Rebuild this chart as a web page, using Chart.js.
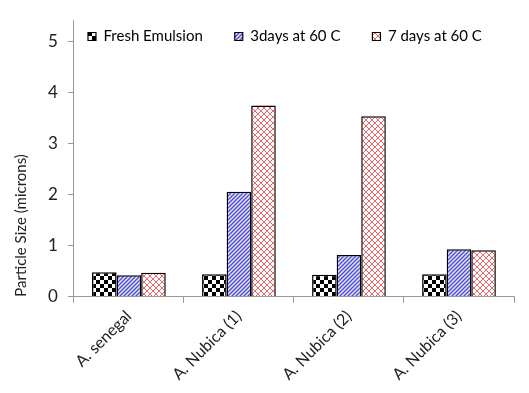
<!DOCTYPE html>
<html>
<head>
<meta charset="utf-8">
<script src="https://cdn.jsdelivr.net/npm/chart.js@4/dist/chart.umd.min.js"></script>
<style>
  html, body { margin: 0; padding: 0; background: #fff; }
  #wrap { width: 529px; height: 393px; position: relative; }
</style>
</head>
<body>
<div id="wrap"><canvas id="chart"></canvas></div>
<script>
// Data
const categories = ['A. senegal', 'A. Nubica (1)', 'A. Nubica (2)', 'A. Nubica (3)'];
const seriesNames = ['Fresh Emulsion', '3days at 60 C', '7 days at 60 C'];
const freshValues = [0.48, 0.44, 0.43, 0.44];
const threeDayValues = [0.42, 2.06, 0.82, 0.93];
const sevenDayValues = [0.47, 3.75, 3.54, 0.91];
const yTicks = [0, 1, 2, 3, 4, 5];

// Fill patterns like the Excel ones
function makePattern(size, draw) {
  const c = document.createElement('canvas');
  c.width = size;
  c.height = size;
  const ctx = c.getContext('2d');
  draw(ctx, size);
  return ctx.createPattern(c, 'repeat');
}

const checkerPattern = makePattern(8, (ctx, s) => {
  ctx.fillStyle = '#fff';
  ctx.fillRect(0, 0, s, s);
  ctx.fillStyle = '#000';
  ctx.fillRect(0, 0, 4, 4);
  ctx.fillRect(4, 4, 4, 4);
});

const stripePattern = makePattern(4, (ctx, s) => {
  ctx.fillStyle = '#e4e4fa';
  ctx.fillRect(0, 0, s, s);
  ctx.strokeStyle = '#4b4bd6';
  ctx.lineWidth = 1.3;
  ctx.beginPath();
  ctx.moveTo(-1, s + 1); ctx.lineTo(s + 1, -1);
  ctx.moveTo(-1, 1); ctx.lineTo(1, -1);
  ctx.moveTo(s - 1, s + 1); ctx.lineTo(s + 1, s - 1);
  ctx.stroke();
});

const crossPattern = makePattern(6, (ctx, s) => {
  ctx.fillStyle = '#fff';
  ctx.fillRect(0, 0, s, s);
  ctx.strokeStyle = '#ee6a6a';
  ctx.lineWidth = 1;
  ctx.beginPath();
  ctx.moveTo(0, 0); ctx.lineTo(s, s);
  ctx.moveTo(0, s); ctx.lineTo(s, 0);
  ctx.stroke();
});

const fontFamily = 'Lato, "Open Sans", sans-serif';

// Legend sits inside the plot area: it takes no layout space,
// then gets its real height back so it is not clipped away
const legendInside = {
  id: 'legendInside',
  beforeInit(chart) {
    const legend = chart.legend;
    if (!legend) return;
    const fit = legend.fit.bind(legend);
    legend.fit = function () {
      fit();
      this._fullHeight = this.height;
      this.height = 0;
    };
  },
  afterLayout(chart) {
    const legend = chart.legend;
    if (!legend || !legend._fullHeight) return;
    legend.top = -3;
    legend.height = legend._fullHeight;
    legend.bottom = legend.top + legend._fullHeight;
    legend.left = chart.chartArea.left - 18;
    legend.right = chart.chartArea.right;
    legend.width = legend.right - legend.left;
  }
};

new Chart(document.getElementById('chart').getContext('2d'), {
  type: 'bar',
  data: {
    labels: categories,
    datasets: [
      { label: seriesNames[0], data: freshValues, backgroundColor: checkerPattern },
      { label: seriesNames[1], data: threeDayValues, backgroundColor: stripePattern },
      { label: seriesNames[2], data: sevenDayValues, backgroundColor: crossPattern }
    ]
  },
  plugins: [legendInside],
  options: {
    responsive: true,
    maintainAspectRatio: false,
    animation: false,
    layout: { padding: { top: 12, right: 15, left: 8, bottom: 5 } },
    datasets: {
      bar: {
        borderColor: '#000',
        borderWidth: 1.5,
        categoryPercentage: 0.67,
        barPercentage: 1.0
      }
    },
    plugins: {
      legend: {
        display: true,
        position: 'top',
        align: 'center',
        labels: {
          color: '#222',
          boxWidth: 8,
          boxHeight: 8,
          padding: 32,
          font: { family: fontFamily, size: 15 },
          generateLabels: chart => chart.data.datasets.map((ds, i) => ({
            text: ds.label,
            fillStyle: ds.backgroundColor,
            strokeStyle: '#000',
            lineWidth: 1.2,
            datasetIndex: i,
            hidden: false
          }))
        }
      },
      tooltip: { enabled: false }
    },
    scales: {
      x: {
        border: { color: '#999', width: 1 },
        grid: { display: true, drawOnChartArea: false, tickLength: 6, color: '#999' },
        ticks: {
          color: '#222',
          maxRotation: 45,
          minRotation: 45,
          padding: 4,
          font: { family: fontFamily, size: 16 }
        }
      },
      y: {
        min: 0,
        max: 5.42,
        afterBuildTicks: axis => {
          axis.ticks = yTicks.map(v => ({ value: v }));
        },
        border: { color: '#999', width: 1 },
        grid: { display: true, drawOnChartArea: false, tickLength: 6, color: '#999' },
        ticks: {
          color: '#222',
          padding: 10,
          font: { family: fontFamily, size: 17 }
        },
        title: {
          display: true,
          text: 'Particle Size (microns)',
          color: '#222',
          align: 'start',
          padding: { bottom: 8 },
          font: { family: fontFamily, size: 15 }
        }
      }
    }
  }
});
</script>
</body>
</html>
